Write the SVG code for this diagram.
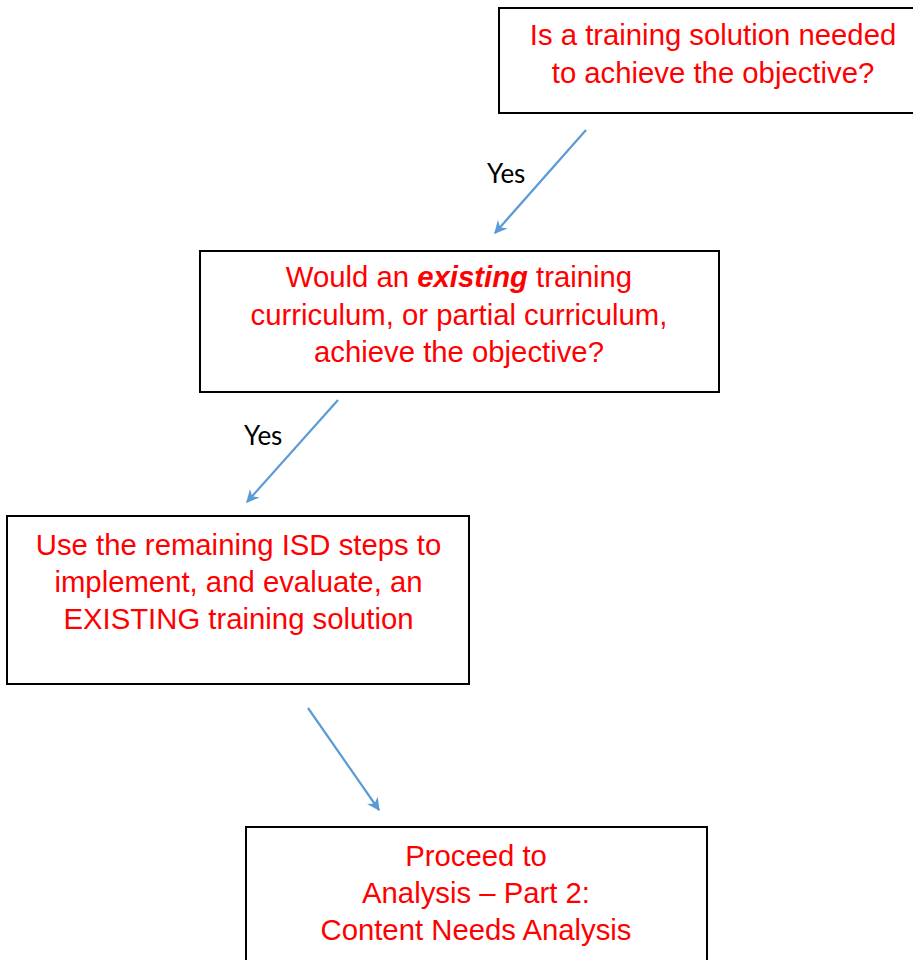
<svg xmlns="http://www.w3.org/2000/svg" width="913" height="960" viewBox="0 0 913 960">
<style>
.box{fill:#fff;stroke:#000;stroke-width:2}
.t{font-family:"Liberation Sans",Arial,sans-serif;font-size:29.3px;fill:#ff0000;text-anchor:middle}
.y{font-family:Lato,"Open Sans",sans-serif;font-size:26px;fill:#000}
.c{stroke:#5b9bd5;stroke-width:2.2;fill:none;marker-end:url(#ah)}
</style>
<defs>
<marker id="ah" viewBox="0 0 10 10" refX="9" refY="5" markerWidth="15" markerHeight="13" markerUnits="userSpaceOnUse" orient="auto">
<path d="M0,0 L10,5 L0,10 L3,5 Z" fill="#5b9bd5"/>
</marker>
</defs>
<rect width="913" height="960" fill="#fff"/>
<g id="connectors">
<line class="c" x1="586" y1="130" x2="495" y2="233"/>
<line class="c" x1="338" y1="400" x2="247" y2="502"/>
<line class="c" x1="308" y1="708" x2="379" y2="810"/>
<text class="y" x="487" y="183">Yes</text>
<text class="y" x="244" y="445">Yes</text>
</g>
<g id="node1">
<rect class="box" x="499" y="8" width="430" height="105"/>
<text class="t" x="713" y="45">Is a training solution needed</text>
<text class="t" x="713" y="83">to achieve the objective?</text>
</g>
<g id="node2">
<rect class="box" x="200" y="251" width="519" height="141"/>
<text class="t" x="459" y="287">Would an <tspan font-weight="bold" font-style="italic">existing</tspan> training</text>
<text class="t" x="459" y="325">curriculum, or partial curriculum,</text>
<text class="t" x="459" y="362">achieve the objective?</text>
</g>
<g id="node3">
<rect class="box" x="7" y="516" width="462" height="168"/>
<text class="t" x="238.5" y="555">Use the remaining ISD steps to</text>
<text class="t" x="238.5" y="592">implement, and evaluate, an</text>
<text class="t" x="238.5" y="629">EXISTING training solution</text>
</g>
<g id="node4">
<rect class="box" x="246" y="827" width="461" height="150"/>
<text class="t" x="476" y="866">Proceed to</text>
<text class="t" x="476" y="903">Analysis – Part 2:</text>
<text class="t" x="476" y="940">Content Needs Analysis</text>
</g>
</svg>
